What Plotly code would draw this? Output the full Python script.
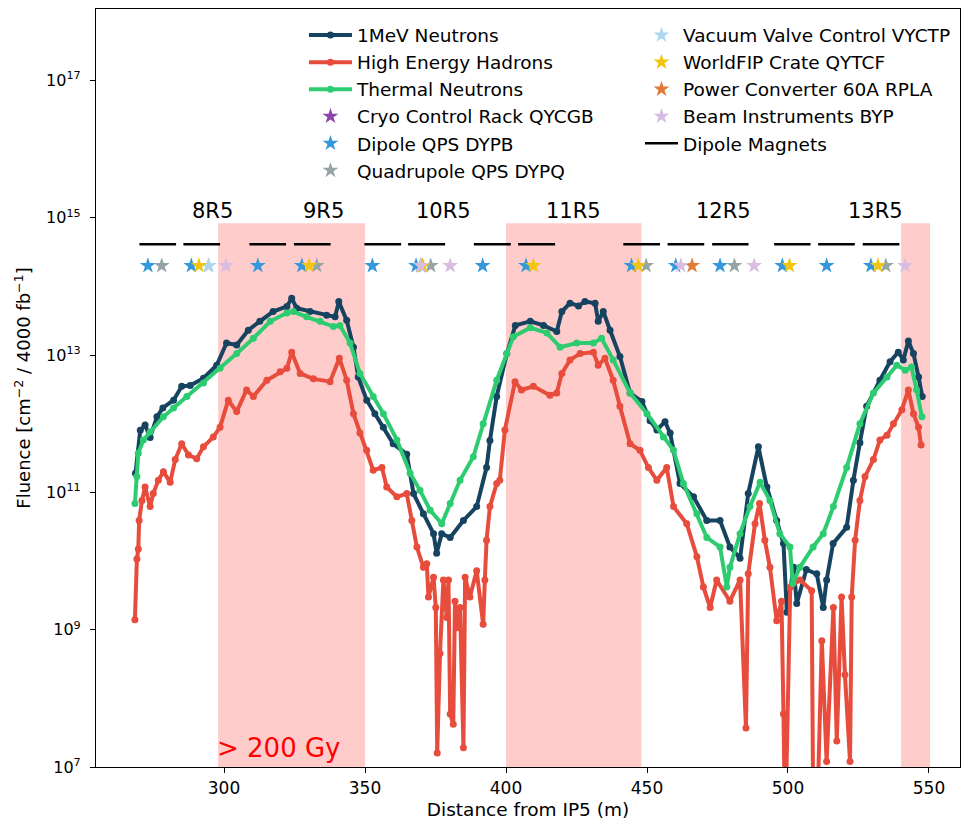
import plotly.graph_objects as go

# ---------------- data ----------------
mev1_x = [268.6, 270.3, 272.0, 273.8, 276.2, 278.3, 282.1, 285.0, 288.0, 292.7,
          297.4, 300.9, 304.5, 308.6, 312.7, 317.4, 322.3, 324.0, 325.8, 330.5,
          336.4, 339.4, 340.7, 343.5, 345.9, 347.6, 350.6, 353.5, 356.5, 360.0,
          364.8, 367.2, 370.7, 374.3, 375.4, 377.2, 380.2, 384.9, 389.6, 393.1,
          394.3, 396.7, 400.3, 403.3, 408.6, 413.3, 418.0, 419.8, 422.7, 425.7,
          428.0, 431.6, 432.7, 434.5, 436.9, 440.4, 444.0, 448.2, 451.1, 453.5,
          456.4, 458.2, 461.7, 466.5, 471.2, 475.9, 479.4, 483.0, 485.9, 489.5,
          492.5, 496.0, 498.4, 499.6, 502.0, 503.1, 506.5, 510.2, 512.5, 513.7,
          516.0, 520.8, 523.2, 525.5, 527.9, 532.6, 536.2, 539.1, 540.9, 542.7,
          544.5, 546.3, 547.6]
mev1_y = [1.9e11, 8e11, 9.6e11, 6.3e11, 1.26e12, 1.7e12, 2.2e12, 3.5e12, 3.6e12, 4.6e12,
          7.1e12, 1.5e13, 1.4e13, 2.3e13, 3.1e13, 4.3e13, 5.1e13, 6.7e13, 4.8e13, 4.3e13,
          3.8e13, 3.6e13, 6.0e13, 3.2e13, 1.3e13, 4.8e12, 2.2e12, 1.4e12, 8.9e11, 5.1e11,
          3.6e11, 9.6e10, 4.9e10, 2.5e10, 1.3e10, 2.5e10, 2.2e10, 3.9e10, 6.2e10, 2.3e11,
          5.7e11, 2.5e12, 1.05e13, 2.7e13, 3.1e13, 2.7e13, 2.2e13, 4.3e13, 5.7e13, 5.2e13,
          6.0e13, 5.7e13, 3.1e13, 4.3e13, 2.3e13, 9.5e12, 2.8e12, 2.1e12, 1.1e12, 8.1e11,
          1.07e12, 7.3e11, 1.35e11, 8.6e10, 3.9e10, 3.9e10, 1.6e10, 1.1e10, 9.6e10, 4.6e11,
          1.2e11, 3.9e10, 1.8e10, 1.8e9, 8.1e9, 2.4e9, 7.5e9, 6.5e9, 2.1e9, 5.3e9,
          1.8e10, 3.1e10, 1.5e11, 5.3e11, 1.8e12, 4.3e12, 8.0e12, 1.1e13, 8.5e12, 1.6e13,
          1.05e13, 4.8e12, 2.5e12]

hadron_x = [268.4, 269.1, 269.6, 269.9, 270.9, 272.0, 273.8, 274.9, 276.7, 278.5,
            280.9, 282.7, 285.0, 287.4, 290.3, 292.7, 296.2, 298.6, 301.5, 304.5,
            308.0, 310.4, 315.2, 319.9, 322.3, 324.0, 327.0, 331.7, 337.6, 340.9,
            343.5, 345.9, 348.2, 350.6, 352.9, 356.0, 357.7, 361.3, 364.8, 366.6,
            368.4, 370.7, 371.9, 372.5, 374.3, 375.1, 375.6, 376.6, 377.8, 379.0,
            379.6, 380.2, 381.3, 381.9, 382.5, 383.7, 384.9, 385.5, 387.2, 389.6,
            391.9, 392.5, 393.1, 394.3, 396.7, 397.8, 399.6, 403.2, 405.5, 409.7,
            415.6, 418.0, 419.8, 422.7, 426.3, 431.0, 432.7, 435.1, 438.0, 440.4,
            444.0, 447.5, 450.5, 453.5, 457.0, 459.4, 464.1, 467.7, 470.0, 472.4,
            474.7, 479.4, 483.0, 485.1, 485.9, 488.3, 489.9, 491.8, 493.6, 496.0,
            497.7, 498.4, 499.0, 500.8, 504.3, 508.4, 509.0, 510.2, 512.0, 513.7,
            516.1, 517.3, 519.0, 520.2, 522.0, 522.6, 523.8, 525.5, 527.3, 530.3,
            532.6, 535.1, 537.4, 540.4, 542.7, 544.5, 546.3, 547.2]
hadron_y = [1.4e9, 1.07e10, 1.5e10, 3.9e10, 7.6e10, 1.2e11, 6.2e10, 9.6e10, 1.5e11, 2.0e11,
            1.4e11, 3.0e11, 5.1e11, 3.5e11, 3.1e11, 4.6e11, 6.4e11, 8.9e11, 2.2e12, 1.5e12,
            3.1e12, 2.5e12, 4.3e12, 5.7e12, 6.4e12, 1.1e13, 5.4e12, 4.5e12, 4.1e12, 9.0e12,
            4.3e12, 1.4e12, 7.3e11, 4.1e11, 2.1e11, 2.3e11, 1.2e11, 8.6e10, 9.6e10, 3.9e10,
            1.6e10, 8.1e9, 9.1e9, 3.0e9, 5.8e9, 2.1e9, 1.6e7, 4.5e8, 5.3e9, 1.5e9,
            5.3e9, 5.9e7, 4.2e7, 2.6e9, 1.07e9, 2.1e9, 1.9e7, 5.8e9, 3.0e9, 7.2e9,
            1.2e9, 5.3e9, 2.0e10, 6.2e10, 1.35e11, 1.5e11, 8.1e11, 4.1e12, 3.1e12, 3.5e12,
            2.6e12, 2.8e12, 5.4e12, 8.5e12, 1.05e13, 1.1e13, 7.1e12, 9.0e12, 4.3e12, 1.8e12,
            5.1e11, 4.1e11, 2.3e11, 1.5e11, 2.3e11, 6.2e10, 3.5e10, 1.15e10, 4.2e9, 2.1e9,
            5.3e9, 2.6e9, 5.3e9, 3.7e7, 6.5e9, 3.5e10, 6.9e10, 2.0e10, 8.1e9, 1.35e9,
            2.6e9, 5.9e7, 1e6, 4.2e9, 5.3e9, 3.7e9, 1e6, 1e6, 6.9e8, 1.2e7,
            2.1e9, 2.4e7, 3.0e9, 2.2e8, 1.2e7, 3.0e9, 2.0e10, 7.6e10, 1.7e11, 3.0e11,
            5.8e11, 6.8e11, 1.0e12, 1.6e12, 3.1e12, 1.4e12, 8.9e11, 4.9e11]

thermal_x = [268.4, 269.1, 269.6, 271.4, 273.8, 278.5, 282.1, 286.8, 292.7, 298.6,
             304.5, 310.4, 316.4, 322.3, 324.6, 329.3, 334.1, 338.8, 341.1, 344.7,
             348.2, 352.9, 356.5, 361.3, 366.0, 369.5, 373.1, 377.2, 380.2, 383.7,
             388.4, 391.9, 396.7, 400.3, 402.6, 408.6, 414.5, 419.2, 425.1, 431.0,
             433.9, 438.0, 444.0, 450.0, 455.8, 459.4, 462.9, 467.7, 471.2, 475.9,
             478.3, 479.4, 483.0, 486.5, 490.1, 493.6, 497.1, 500.7, 501.7, 504.2,
             508.9, 512.5, 516.1, 520.8, 525.5, 530.3, 535.1, 538.6, 541.6, 543.8,
             545.6, 547.5]
thermal_y = [6.9e10, 1.7e11, 3.7e11, 5.8e11, 7.6e11, 1.26e12, 1.7e12, 2.5e12, 3.9e12, 6.4e12,
             1.05e13, 1.75e13, 3.1e13, 4.1e13, 4.3e13, 3.6e13, 3.1e13, 2.6e13, 2.7e13, 1.5e13,
             5.4e12, 2.5e12, 1.4e12, 5.8e11, 1.9e11, 1.07e11, 5.5e10, 3.5e10, 6.9e10, 1.5e11,
             3.3e11, 1.0e12, 4.3e12, 1.05e13, 1.85e13, 2.5e13, 2.1e13, 1.3e13, 1.5e13, 1.5e13,
             1.75e13, 8.5e12, 2.8e12, 1.4e12, 6.4e11, 4.1e11, 1.35e11, 4.9e10, 2.2e10, 1.6e10,
             4.2e9, 8.1e9, 2.5e10, 6.2e10, 1.4e11, 7.6e10, 2.5e10, 1.6e10, 4.7e9, 8.1e9,
             1.6e10, 2.5e10, 6.2e10, 2.3e11, 1.0e12, 2.8e12, 4.8e12, 7.1e12, 6.0e12, 6.7e12,
             3.1e12, 1.26e12]

assert len(mev1_x) == len(mev1_y)
assert len(hadron_x) == len(hadron_y)
assert len(thermal_x) == len(thermal_y)

# equipment positions along the tunnel (m)
equipment = {
    "Cryo Control Rack QYCGB": [369.8],
    "Dipole QPS DYPB": [273.0, 288.4, 312.0, 327.6, 352.6, 368.1, 391.7, 407.1,
                        444.5, 460.2, 475.9, 498.0, 513.7, 529.4],
    "Quadrupole QPS DYPQ": [277.9, 294.5, 332.9, 373.3, 449.7, 481.0, 534.7],
    "Vacuum Valve Control VYCTP": [294.5],
    "WorldFIP Crate QYTCF": [291.1, 330.2, 370.5, 409.7, 446.9, 500.5, 531.9],
    "Power Converter 60A RPLA": [466.0],
    "Beam Instruments BYP": [300.7, 369.8, 380.2, 462.0, 488.0, 541.5],
}
equipment_colors = {
    "Cryo Control Rack QYCGB": "#8e44ad",
    "Dipole QPS DYPB": "#3498db",
    "Quadrupole QPS DYPQ": "#95a5a6",
    "Vacuum Valve Control VYCTP": "#aed6f1",
    "WorldFIP Crate QYTCF": "#f1c40f",
    "Power Converter 60A RPLA": "#e07b39",
    "Beam Instruments BYP": "#d7bde2",
}
equipment_level = 2.0e14

dipole_starts = [270.0, 285.6, 309.0, 324.8, 349.8, 365.3, 388.6, 404.3, 441.6,
                 457.3, 473.1, 495.1, 510.7, 526.5]
dipole_ends = [283.0, 298.6, 322.0, 337.8, 362.8, 378.4, 401.7, 417.4, 454.6,
               470.3, 486.0, 508.0, 523.7, 539.5]
dipole_level = 4.1e14

cell_labels = ["8R5", "9R5", "10R5", "11R5", "12R5", "13R5"]
cell_centers = [295.9, 335.4, 378.0, 423.9, 477.1, 531.0]
cell_label_log = 15.1

dose_zone_starts = [297.9, 400.0, 540.1]
dose_zone_ends = [350.0, 448.0, 550.4]

ytick_exponents = [7, 9, 11, 13, 15, 17]
xtick_vals = [300, 350, 400, 450, 500, 550]

# ---------------- figure ----------------
FONT = "DejaVu Sans"
fig = go.Figure()

series = [
    ("1MeV Neutrons", mev1_x, mev1_y, "#154360"),
    ("High Energy Hadrons", hadron_x, hadron_y, "#e74c3c"),
    ("Thermal Neutrons", thermal_x, thermal_y, "#2ecc71"),
]
for name, xs, ys, col in series:
    fig.add_trace(go.Scatter(
        x=xs, y=ys, mode="lines+markers", name=name,
        line=dict(color=col, width=4), marker=dict(color=col, size=7),
        legend="legend", legendgroup=name))

first_col = ["Cryo Control Rack QYCGB", "Dipole QPS DYPB", "Quadrupole QPS DYPQ"]
for name, xs in equipment.items():
    fig.add_trace(go.Scatter(
        x=xs, y=[equipment_level] * len(xs), mode="markers", name=name,
        marker=dict(symbol="star", size=12, color=equipment_colors[name],
                    line=dict(width=0)),
        legend="legend" if name in first_col else "legend2", legendgroup=name))

mx, my = [], []
for s, e in zip(dipole_starts, dipole_ends):
    mx += [s, e, None]
    my += [dipole_level, dipole_level, None]
fig.add_trace(go.Scatter(x=mx, y=my, mode="lines", name="Dipole Magnets",
                         line=dict(color="black", width=2.5),
                         legend="legend2", legendgroup="Dipole Magnets"))

YMIN, YMAX = 7, 18.04
zone_top = (14.92 - YMIN) / (YMAX - YMIN)
for s, e in zip(dose_zone_starts, dose_zone_ends):
    fig.add_shape(type="rect", xref="x", yref="y domain", x0=s, x1=e, y0=0, y1=zone_top,
                  fillcolor="#ffcccc", line=dict(width=0), layer="below")

for lab, cx in zip(cell_labels, cell_centers):
    fig.add_annotation(x=cx, y=cell_label_log, xref="x", yref="y", text=lab,
                       showarrow=False, font=dict(family=FONT, size=21, color="black"))

fig.add_annotation(x=297.9, y=(7.28 - YMIN) / (YMAX - YMIN), xref="x", yref="y domain",
                   text="> 200 Gy", showarrow=False, xanchor="left", yanchor="middle",
                   xshift=-3, font=dict(family=FONT, size=26, color="red"))

fig.update_layout(
    width=961, height=821,
    margin=dict(l=96, r=1, t=9, b=54),
    paper_bgcolor="white", plot_bgcolor="white",
    font=dict(family=FONT, size=16, color="black"),
    showlegend=True,
    legend=dict(x=0.2407, y=0.990, xanchor="left", yanchor="top",
                bgcolor="rgba(0,0,0,0)", font=dict(family=FONT, size=18.5),
                itemwidth=43, tracegroupgap=2, traceorder="normal"),
    legend2=dict(x=0.6296, y=0.990, xanchor="left", yanchor="top",
                 bgcolor="rgba(0,0,0,0)", font=dict(family=FONT, size=18.5),
                 itemwidth=33, tracegroupgap=2, traceorder="normal"),
)
fig.update_xaxes(range=[254.6, 561.0], tickvals=xtick_vals, ticks="outside", ticklen=5,
                 tickcolor="black", showline=True, linecolor="black", linewidth=1.2,
                 mirror=True, showgrid=False, zeroline=False,
                 tickfont=dict(family=FONT, size=17),
                 title=dict(text="Distance from IP5 (m)", font=dict(family=FONT, size=18.5),
                            standoff=6))
fig.update_yaxes(type="log", range=[YMIN, YMAX],
                 tickvals=[10 ** e for e in ytick_exponents],
                 ticktext=["10<sup>%d</sup>" % e for e in ytick_exponents],
                 ticks="outside", ticklen=5, tickcolor="black",
                 showline=True, linecolor="black", linewidth=1.2, mirror=True,
                 showgrid=False, zeroline=False, ticklabelstandoff=6,
                 tickfont=dict(family=FONT, size=16),
                 title=dict(text="Fluence [cm<sup>−2</sup> / 4000 fb<sup>−1</sup>]",
                            font=dict(family=FONT, size=18), standoff=10))

fig.write_html("out.html", config={"displayModeBar": False},
               post_script="document.body.style.margin='0';")
